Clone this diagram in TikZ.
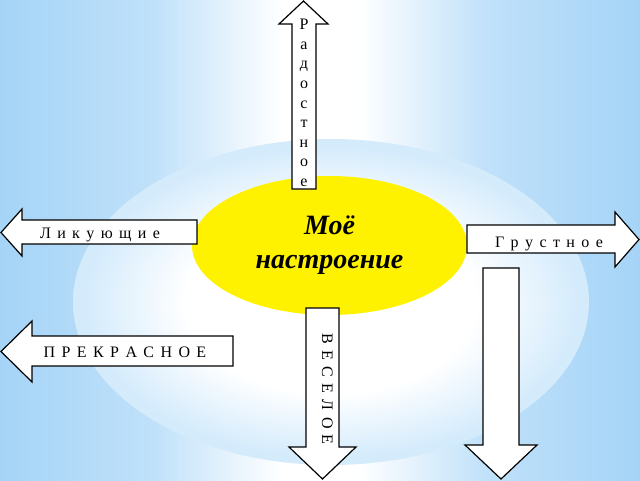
\documentclass[tikz,border=0pt]{standalone}
\usepackage{fontspec}
\setmainfont{Liberation Serif}
\newfontfamily\spaced[LetterSpace = 15]{Liberation Serif}
\usetikzlibrary{shapes.geometric}

\definecolor{sky}{RGB}{165,212,247}
\colorlet{skymid}{sky!70!white}
\definecolor{glow}{RGB}{212,235,252}
\pgfdeclarehorizontalshading{sidesky}{100bp}{color(0bp)=(sky); color(25bp)=(sky); color(37bp)=(skymid); color(47bp)=(white); color(53bp)=(white); color(63bp)=(skymid); color(75bp)=(sky); color(100bp)=(sky)}
\pgfdeclareradialshading{glowball}{\pgfpoint{0bp}{0bp}}{color(0bp)=(white); color(14bp)=(white); color(24bp)=(glow); color(25bp)=(glow); color(50bp)=(glow)}

\tikzset{
	arrowbox/.style = {draw = black, fill = white, line width = 1.2pt, line join = miter},
	word/.style = {font = \fontsize{16}{19.6}\selectfont, inner sep = 0pt},
	tracked/.style = {font = \spaced\fontsize{16}{19.6}\selectfont, inner sep = 0pt}
}

\begin{document}
\begin{tikzpicture}[x = 1pt, y = -1pt]
		\useasboundingbox (0,0) rectangle (640,480);
		\shade [shading = sidesky] (0,0) rectangle (640,480);
		\shade [shading = glowball] (331,302) ellipse [x radius = 258, y radius = 163];
		
		\node (Mood) at (329.5,245.5) [ellipse, fill = yellow, minimum width = 275, minimum height = 139, inner sep = 0, align = center, font = \bfseries\itshape\fontsize{28}{34}\selectfont] {Моё\\настроение};
		
		% up
		\draw [arrowbox] (292,189) -- (292,24) -- (279,24) -- (303.5,1) -- (328,24) -- (316,24) -- (316,189) -- cycle;
		\node (Rad) at (304,103) [word, align = center] {Р\\а\\д\\о\\с\\т\\н\\о\\е};
		
		% left
		\draw [arrowbox] (197,220) -- (22,220) -- (22,209) -- (1,232.5) -- (22,256) -- (22,244) -- (197,244) -- cycle;
		\node (Lik) at (100,238) [tracked, anchor = base] {Л и к у ю щ и е};
		
		\draw [arrowbox] (233,336) -- (32,336) -- (32,321) -- (1,351.5) -- (32,382) -- (32,366) -- (233,366) -- cycle;
		\node (Pre) at (125,357) [tracked, anchor = base] {П Р Е К Р А С Н О Е};
		
		% right
		\draw [arrowbox] (467,225) -- (615,225) -- (615,212) -- (639,239.5) -- (615,267) -- (615,253) -- (467,253) -- cycle;
		\node (Gru) at (549,247) [tracked, anchor = base] {Г р у с т н о е};
		
		% down
		\draw [arrowbox] (306,308) -- (306,447) -- (289,447) -- (322.5,479) -- (356,447) -- (339,447) -- (339,308) -- cycle;
		\node (Ves) at (322,389) [tracked, anchor = base, rotate = -90] {В Е С Е Л О Е};
		
		\draw [arrowbox] (483,268) -- (483,445) -- (465,445) -- (501,479) -- (537,445) -- (519,445) -- (519,268) -- cycle;
\end{tikzpicture}
\end{document}
